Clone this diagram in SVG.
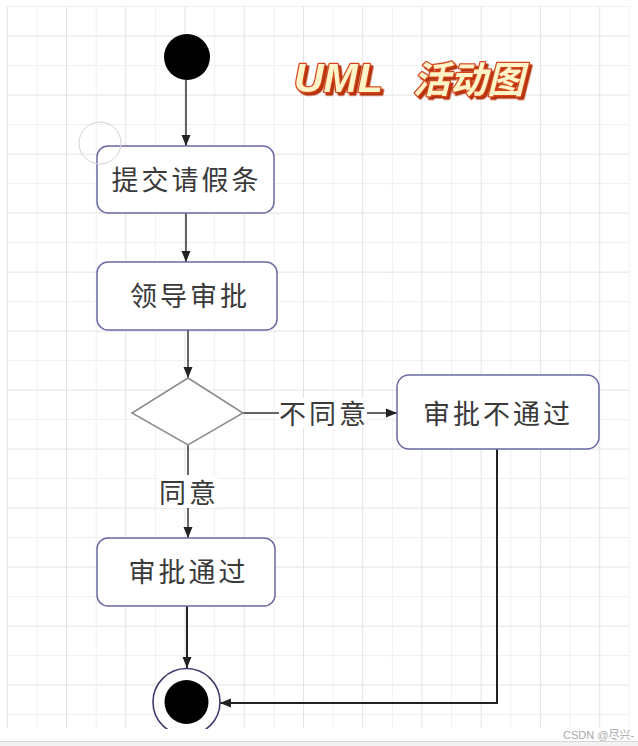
<svg xmlns="http://www.w3.org/2000/svg" width="638" height="746" viewBox="0 0 638 746">
  <defs>
    <style>
      .gmaj { stroke: #e3e3e3; stroke-width: 1; fill: none; }
      .gmin { stroke: #f0f0f0; stroke-width: 1; fill: none; }
      .box { fill: #ffffff; stroke: #6a6aa6; stroke-width: 1.5; }
      .lbl { font-family: "Noto Sans CJK SC", "Noto Sans", sans-serif; font-size: 27px; fill: #3a3a3a; letter-spacing: 3px; text-anchor: middle; dominant-baseline: central; }
      .edge { fill: none; stroke: #333333; stroke-width: 1.5; }
      .edge2 { fill: none; stroke: #222222; stroke-width: 2; }
      .title { font-weight: bold; font-style: italic; fill: #fff4c8; stroke: #d4461c; stroke-width: 2.5; paint-order: stroke; stroke-linejoin: round; }
    </style>
    <marker id="arr" markerUnits="userSpaceOnUse" markerWidth="13" markerHeight="11" refX="12" refY="5.5" orient="auto">
      <path d="M1,1 L12,5.5 L1,10 Z" fill="#222222"/>
    </marker>
    <filter id="ext" x="-10%" y="-20%" width="130%" height="150%">
      <feDropShadow dx="2.5" dy="2.5" stdDeviation="0.3" flood-color="#b5300f" flood-opacity="1"/>
    </filter>
  </defs>

  <rect x="0" y="0" width="638" height="746" fill="#ffffff"/>

  <g id="grid">
    <path class="gmin" d="M36.9,6.6V728 M96.2,6.6V728 M155.4,6.6V728 M214.6,6.6V728 M273.9,6.6V728 M333.1,6.6V728 M392.3,6.6V728 M451.6,6.6V728 M510.8,6.6V728 M570,6.6V728 M629.3,6.6V728
      M7.3,6.6H629.3 M7.3,65.6H629.3 M7.3,124.6H629.3 M7.3,183.6H629.3 M7.3,242.6H629.3 M7.3,301.6H629.3 M7.3,360.6H629.3 M7.3,419.6H629.3 M7.3,478.6H629.3 M7.3,537.6H629.3 M7.3,596.6H629.3 M7.3,655.6H629.3 M7.3,714.6H629.3"/>
    <path class="gmaj" d="M7.3,6.6V728 M66.5,6.6V728 M125.8,6.6V728 M185,6.6V728 M244.2,6.6V728 M303.5,6.6V728 M362.7,6.6V728 M421.9,6.6V728 M481.2,6.6V728 M540.4,6.6V728 M599.7,6.6V728
      M7.3,36.1H629.3 M7.3,95.1H629.3 M7.3,154.1H629.3 M7.3,213.1H629.3 M7.3,272.1H629.3 M7.3,331.1H629.3 M7.3,390.1H629.3 M7.3,449.1H629.3 M7.3,508.1H629.3 M7.3,567.1H629.3 M7.3,626.1H629.3 M7.3,685.1H629.3"/>
  </g>

  <g id="title">
    <text x="294" y="92" class="title" font-family="'Liberation Sans', Arial, sans-serif" font-size="41" filter="url(#ext)">UML</text>
    <text x="413" y="77" class="title" font-family="'Noto Sans CJK SC', sans-serif" font-size="37" font-weight="900" dominant-baseline="central" filter="url(#ext)">活动图</text>
  </g>

  <g id="connectors">
    <line x1="186" y1="80" x2="186" y2="146" class="edge" stroke="#555555" stroke-width="1.3" marker-end="url(#arr)"/>
    <line x1="186" y1="213" x2="186" y2="262" class="edge" stroke="#555555" stroke-width="1.3" marker-end="url(#arr)"/>
    <line x1="188" y1="330" x2="188" y2="378" class="edge" marker-end="url(#arr)"/>
    <line x1="243" y1="413" x2="397" y2="413" class="edge" marker-end="url(#arr)"/>
    <line x1="188" y1="445" x2="188" y2="538" class="edge" marker-end="url(#arr)"/>
    <line x1="187" y1="606" x2="187" y2="668" class="edge2" marker-end="url(#arr)"/>
    <polyline points="497,449 497,703 220,703" class="edge2" marker-end="url(#arr)"/>
    <g id="label-disagree">
      <rect x="279" y="398" width="88" height="30" fill="#ffffff"/>
      <text x="324" y="412" class="lbl">不同意</text>
    </g>
    <g id="label-agree">
      <rect x="158" y="475" width="60" height="33" fill="#ffffff"/>
      <text x="189" y="491" class="lbl">同意</text>
    </g>
  </g>

  <g id="start">
    <circle cx="187" cy="57" r="23" fill="#000000"/>
  </g>

  <g id="submit">
    <rect x="97" y="146" width="177" height="67" rx="11" class="box"/>
    <text x="186.5" y="178" class="lbl">提交请假条</text>
  </g>

  <g id="leader">
    <rect x="97" y="262" width="180" height="68" rx="11" class="box"/>
    <text x="190" y="294" class="lbl">领导审批</text>
  </g>

  <g id="decision">
    <polygon points="188,378 243,413 188,445 132,413" fill="#ffffff" stroke="#8a8a8a" stroke-width="1.5"/>
  </g>

  <g id="rejected">
    <rect x="397" y="375" width="202" height="74" rx="12" class="box"/>
    <text x="498" y="412" class="lbl">审批不通过</text>
  </g>

  <g id="approved">
    <rect x="97" y="538" width="178" height="68" rx="11" class="box"/>
    <text x="188.5" y="570" class="lbl" fill="#1e1e1e">审批通过</text>
  </g>

  <g id="end">
    <circle cx="186.5" cy="702" r="33.5" fill="#ffffff" stroke="#3c3c6c" stroke-width="1.6"/>
    <circle cx="186.5" cy="702" r="22" fill="#000000"/>
  </g>

  <circle cx="100" cy="143" r="21" fill="none" stroke="#d2d2d2" stroke-width="1"/>

  <g id="footer">
    <rect x="0" y="729" width="638" height="17" fill="#ffffff"/>
    <line x1="0" y1="741.5" x2="638" y2="741.5" stroke="#d6d6d6" stroke-width="1"/>
    <rect x="0" y="742" width="638" height="4" fill="#f2f2f2"/>
    <text x="563" y="739" font-family="'Liberation Sans', 'Noto Sans CJK SC', sans-serif" font-size="11" fill="#a8a8a8">CSDN @尽兴-</text>
  </g>
</svg>
